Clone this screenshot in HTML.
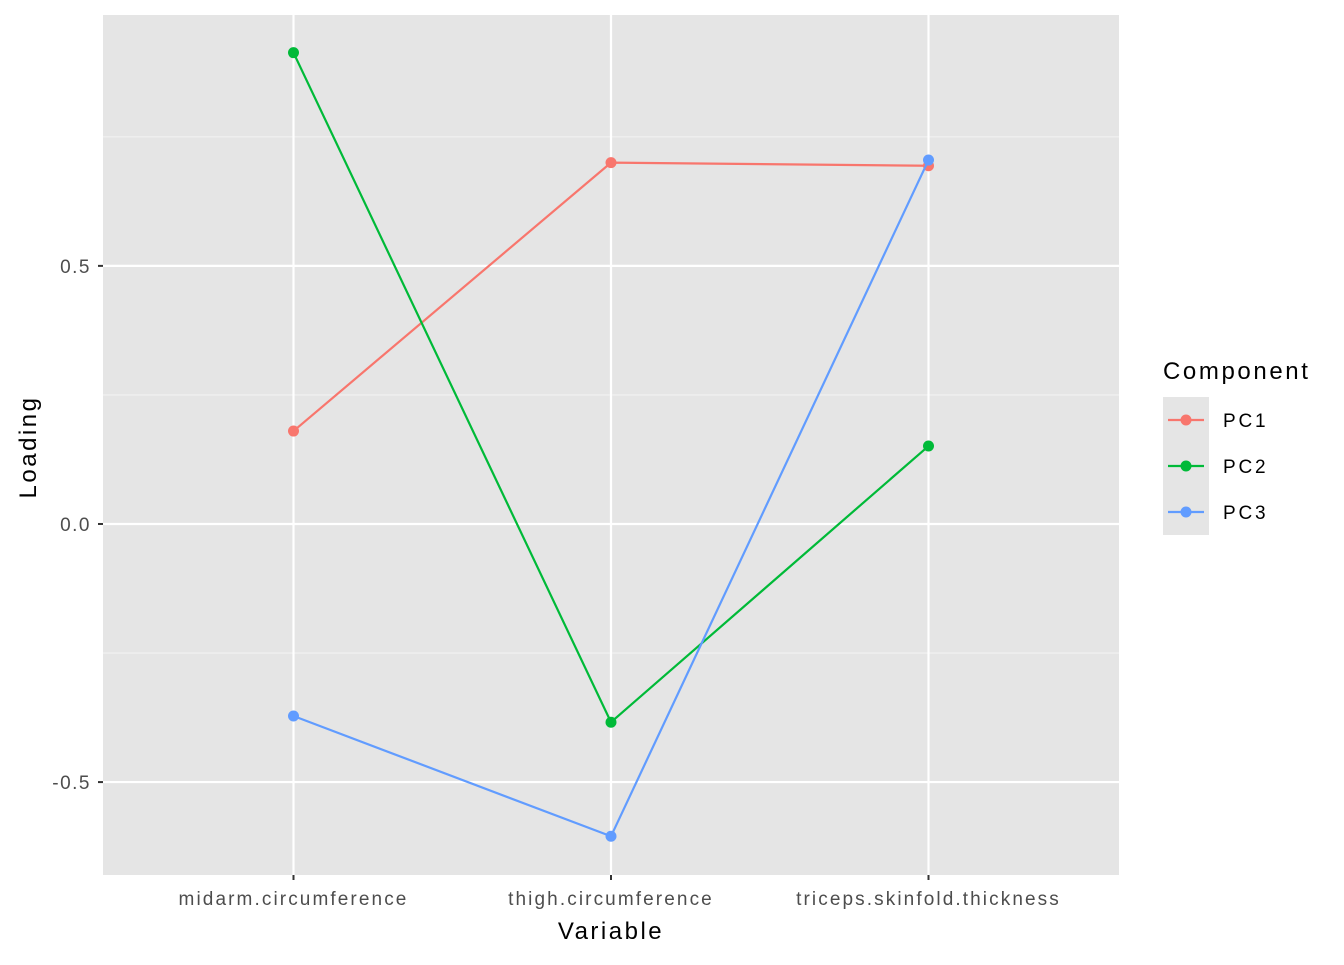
<!DOCTYPE html>
<html><head><meta charset="utf-8"><style>
body{margin:0;background:#fff;font-family:"Liberation Sans",Arial,sans-serif;}
svg text{font-family:"Liberation Sans",Arial,sans-serif;}
</style></head><body>
<svg id="chart" width="1344" height="960" xmlns="http://www.w3.org/2000/svg">
<rect x="0" y="0" width="1344" height="960" fill="#fff"/>
<rect x="103" y="15" width="1016" height="860" fill="#e5e5e5"/>
<g id="grid"></g><g id="series"></g><g id="axes"></g><g id="legend"></g>
</svg>
<script>
const categories = ["midarm.circumference","thigh.circumference","triceps.skinfold.thickness"];
const seriesNames = ["PC1","PC2","PC3"];
const pc1 = [0.180, 0.700, 0.694];
const pc2 = [0.913, -0.384, 0.151];
const pc3 = [-0.372, -0.605, 0.705];
const yTicks = [-0.5, 0.0, 0.5];
const yTickLabels = ["-0.5","0.0","0.5"];
const yMinor = [-0.25, 0.25, 0.75];
const colors = ["#F8766D","#00BA38","#619CFF"];
const allSeries = [pc1, pc2, pc3];

const NS="http://www.w3.org/2000/svg";
const px0=103, px1=1119, py0=15, py1=875;
const yMin=-0.680, yMax=0.986;
function yS(v){return py1-(v-yMin)/(yMax-yMin)*(py1-py0);}
function xS(i){const n=categories.length;const step=(px1-px0)/(n-1+1.2);return px0+(0.6+i)*step;}
function mk(tag,attrs,parent){const e=document.createElementNS(NS,tag);for(const k in attrs)e.setAttribute(k,attrs[k]);parent.appendChild(e);return e;}
const grid=document.getElementById('grid'), ser=document.getElementById('series'), ax=document.getElementById('axes'), leg=document.getElementById('legend');

yMinor.forEach(v=>{const l=mk('line',{x1:px0,x2:px1,y1:yS(v),y2:yS(v),stroke:'#f2f2f2','stroke-width':1.1},grid);

});
yTicks.forEach((v,i)=>{const l=mk('line',{x1:px0,x2:px1,y1:yS(v),y2:yS(v),stroke:'#fff','stroke-width':2.2},grid);


const t=mk('line',{x1:px0-5,x2:px0,y1:yS(v),y2:yS(v),stroke:'#333','stroke-width':2},ax);


const tx=mk('text',{x:px0-12,y:yS(v)+7,'text-anchor':'end','font-size':19,'letter-spacing':1.5,fill:'#4d4d4d'},ax);tx.textContent=yTickLabels[i];

});
categories.forEach((c,i)=>{const x=xS(i);
const l=mk('line',{x1:x,x2:x,y1:py0,y2:py1,stroke:'#fff','stroke-width':2.2},grid);


const t=mk('line',{x1:x,x2:x,y1:py1,y2:py1+5,stroke:'#333','stroke-width':2},ax);


const tx=mk('text',{x:x,y:905,'text-anchor':'middle','font-size':19,'letter-spacing':2.1,fill:'#4d4d4d'},ax);tx.textContent=c;

});
const xt=mk('text',{x:(px0+px1)/2,y:939,'text-anchor':'middle','font-size':24,'letter-spacing':2.5,fill:'#000'},ax);xt.textContent='Variable';


const yt=mk('text',{x:36,y:447,'text-anchor':'middle','font-size':24,'letter-spacing':2.5,fill:'#000',transform:'rotate(-90 36 447)'},ax);yt.textContent='Loading';



allSeries.forEach((s,si)=>{
const pts=s.map((v,i)=>xS(i)+','+yS(v)).join(' ');
const pl=mk('polyline',{points:pts,fill:'none',stroke:colors[si],'stroke-width':2.2},ser);


s.forEach((v,i)=>{const c=mk('circle',{cx:xS(i),cy:yS(v),r:5.5,fill:colors[si]},ser);

});
});

const lt=mk('text',{x:1163,y:379,'font-size':24,'letter-spacing':2.6,fill:'#000'},leg);lt.textContent='Component';


seriesNames.forEach((n,i)=>{const y=420+i*46;
const bg=mk('rect',{x:1163,y:y-23,width:46,height:46,fill:'#e5e5e5'},leg);


const l=mk('line',{x1:1168,x2:1204,y1:y,y2:y,stroke:colors[i],'stroke-width':2.2},leg);


const c=mk('circle',{cx:1186,cy:y,r:5.5,fill:colors[i]},leg);


const t=mk('text',{x:1223,y:y+7,'font-size':19,'letter-spacing':2.8,fill:'#000'},leg);t.textContent=n;

});
</script>
</body></html>
